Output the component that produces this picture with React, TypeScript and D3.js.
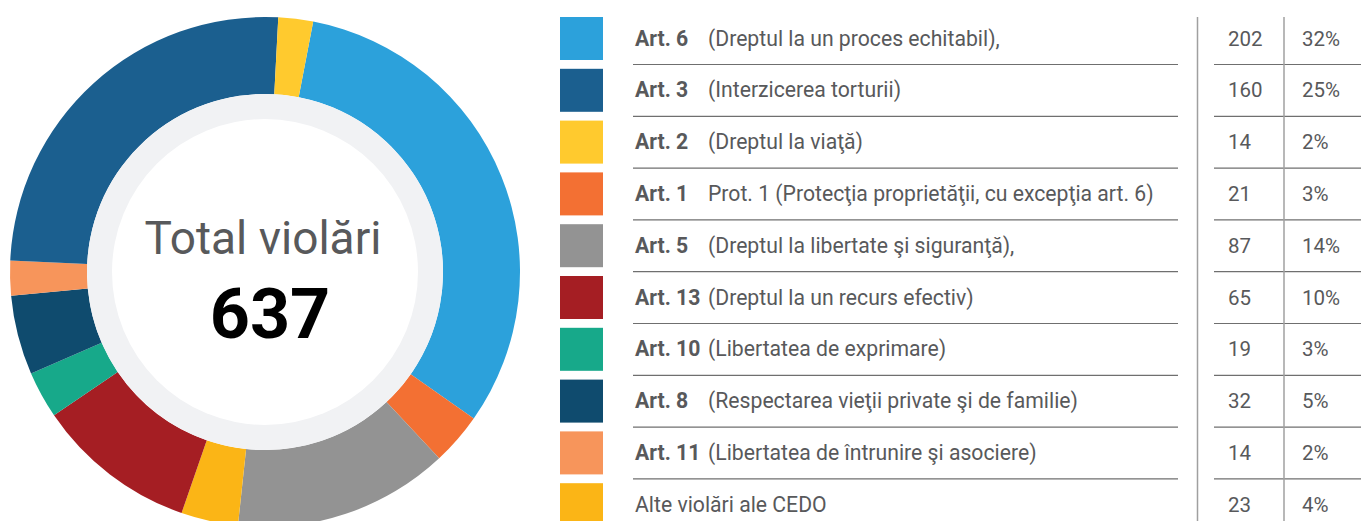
import React from "react";
import * as d3 from "d3";

const articles = ["Art. 6", "Art. 3", "Art. 2", "Art. 1", "Art. 5", "Art. 13", "Art. 10", "Art. 8", "Art. 11", ""];
const descriptions = [
  "(Dreptul la un proces echitabil),",
  "(Interzicerea torturii)",
  "(Dreptul la viaţă)",
  "Prot. 1 (Protecţia proprietăţii, cu excepţia art. 6)",
  "(Dreptul la libertate şi siguranţă),",
  "(Dreptul la un recurs efectiv)",
  "(Libertatea de exprimare)",
  "(Respectarea vieţii private şi de familie)",
  "(Libertatea de întrunire şi asociere)",
  "Alte violări ale CEDO",
];
const counts = [202, 160, 14, 21, 87, 65, 19, 32, 14, 23];
const percents = ["32%", "25%", "2%", "3%", "14%", "10%", "3%", "5%", "2%", "4%"];
const colors = ["#2ca1db", "#1b5f8f", "#ffca2e", "#f37033", "#939393", "#a51e23", "#17a98a", "#0f4b6e", "#f7955b", "#fbb516"];
// clockwise order of slices in the donut (indices into the arrays above)
const pieOrder = [0, 3, 4, 9, 5, 6, 7, 8, 1, 2];
const totalLabel = "Total violări";
const total = 637;

export default function App() {
  const W = 1361, H = 521;
  const cx = 265, cy = 272, R = 255, r = 178, rw = 153;
  const pie = d3
    .pie<number>()
    .value((i) => counts[i])
    .sort(null)
    .startAngle((10.9 * Math.PI) / 180)
    .endAngle((10.9 * Math.PI) / 180 + 2 * Math.PI);
  const arcs = pie(pieOrder);
  const arc = d3.arc<d3.PieArcDatum<number>>().innerRadius(r).outerRadius(R);

  const rowY = d3.scaleLinear().domain([0, 1]).range([17, 17 + 51.8]);
  const sq = 43;
  const font = "Roboto, 'Noto Sans', sans-serif";
  const txt = "#58595b";
  const fs = 21.2;

  return (
    <svg width={W} height={H} style={{ position: "absolute", left: 0, top: 0 }}>
      <g transform={`translate(${cx},${cy})`}>
        {arcs.map((a) => (
          <path key={a.data} d={arc(a) || ""} fill={colors[a.data]} />
        ))}
        <circle r={r} fill="#f1f2f4" />
        <circle r={rw} fill="#ffffff" />
        <text x={-2} y={-18} textAnchor="middle" fontFamily={font} fontSize={46} fill={txt}>
          {totalLabel}
        </text>
        <text x={5} y={66} textAnchor="middle" fontFamily={font} fontSize={70} fontWeight={700} fill="#000">
          {total}
        </text>
      </g>
      {articles.map((art, i) => {
        const y0 = rowY(i);
        const mid = y0 + sq / 2;
        const base = mid + 7;
        const lineY = y0 + sq + 4.5;
        return (
          <g key={i}>
            <rect x={560} y={y0} width={sq} height={sq} fill={colors[i]} />
            {art ? (
              <>
                <text x={635} y={base} fontFamily={font} fontSize={fs} fontWeight={700} fill={txt}>
                  {art}
                </text>
                <text x={708} y={base} fontFamily={font} fontSize={fs} fill={txt}>
                  {descriptions[i]}
                </text>
              </>
            ) : (
              <text x={635} y={base} fontFamily={font} fontSize={fs} fill={txt}>
                {descriptions[i]}
              </text>
            )}
            <text x={1228} y={base} fontFamily={font} fontSize={20.5} fill={txt}>
              {counts[i]}
            </text>
            <text x={1302} y={base} fontFamily={font} fontSize={20.5} fill={txt}>
              {percents[i]}
            </text>
            {i < articles.length - 1 && (
              <>
                <line x1={633} x2={1178} y1={lineY} y2={lineY} stroke="#6f6f6f" strokeWidth={1.2} />
                <line x1={1214} x2={1361} y1={lineY} y2={lineY} stroke="#6f6f6f" strokeWidth={1.2} />
              </>
            )}
          </g>
        );
      })}
      <line x1={1197.5} x2={1197.5} y1={17} y2={H} stroke="#a0a0a0" strokeWidth={1.5} />
      <line x1={1284} x2={1284} y1={17} y2={H} stroke="#a0a0a0" strokeWidth={1.5} />
    </svg>
  );
}
